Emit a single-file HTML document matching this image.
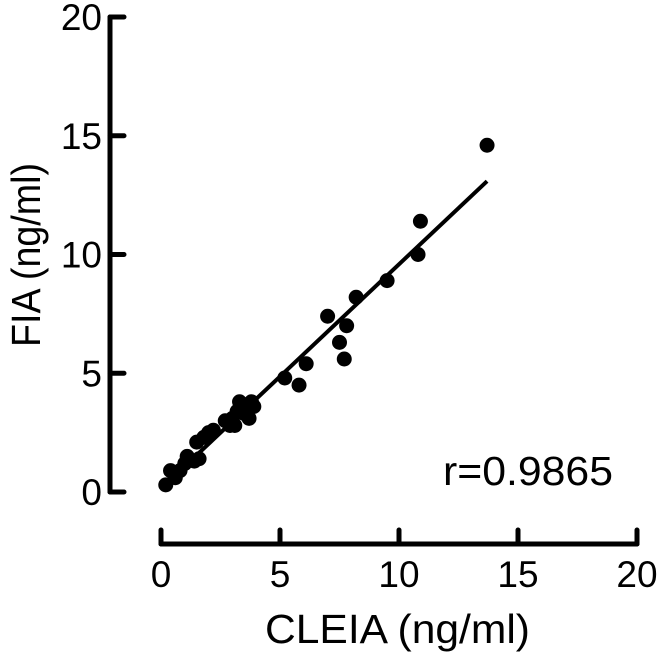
<!DOCTYPE html>
<html><head><meta charset="utf-8"><style>
html,body{margin:0;padding:0;background:#fff;}
svg{display:block;font-family:"Liberation Sans",Arial,sans-serif;}
</style></head><body>
<svg id="chart" width="659" height="656"></svg>
<script>
const xVals=[0.2,0.4,0.6,0.8,1.0,1.1,1.4,1.6,1.5,1.8,2.0,2.2,2.7,2.9,3.0,3.1,3.2,3.3,3.5,3.6,3.7,3.8,3.9,5.2,5.8,6.1,7.0,7.5,7.7,7.8,8.2,9.5,10.8,10.9,13.7];
const yVals=[0.3,0.9,0.6,0.9,1.2,1.5,1.3,1.4,2.1,2.3,2.5,2.6,3.0,2.8,3.1,2.8,3.4,3.8,3.3,3.6,3.1,3.8,3.6,4.8,4.5,5.4,7.4,6.3,5.6,7.0,8.2,8.9,10.0,11.4,14.6];
const xTicks=[0,5,10,15,20];
const yTicks=[0,5,10,15,20];
const rLabel="r=0.9865";
const NS="http://www.w3.org/2000/svg";
const svg=document.getElementById('chart');
function sx(v){return 161+v*23.8;}
function sy(v){return 492-v*23.75;}
function mk(t,a,p){const e=document.createElementNS(NS,t);for(const k in a)e.setAttribute(k,a[k]);(p||svg).appendChild(e);return e;}
const ya=mk('line',{x1:110,y1:sy(20),x2:110,y2:sy(0),stroke:'#000','stroke-width':5,'stroke-linecap':'round'});


const xa=mk('line',{x1:sx(0),y1:544,x2:sx(20),y2:544,stroke:'#000','stroke-width':5,'stroke-linecap':'round'});


yTicks.forEach(v=>{
 const t=mk('line',{x1:110,y1:sy(v),x2:124,y2:sy(v),stroke:'#000','stroke-width':5,'stroke-linecap':'round'});
 
 
 const l=mk('text',{x:102,y:sy(v)+13,'text-anchor':'end','font-size':37});
 l.textContent=v;
 
 
});
xTicks.forEach(v=>{
 const t=mk('line',{x1:sx(v),y1:544,x2:sx(v),y2:530,stroke:'#000','stroke-width':5,'stroke-linecap':'round'});
 
 
 const l=mk('text',{x:sx(v),y:587,'text-anchor':'middle','font-size':37});
 l.textContent=v;
 
 
});
const n=xVals.length;let mx=0,my=0;xVals.forEach((v,i)=>{mx+=v;my+=yVals[i];});mx/=n;my/=n;
let sxy=0,sxx=0;xVals.forEach((v,i)=>{sxy+=(v-mx)*(yVals[i]-my);sxx+=(v-mx)*(v-mx);});
const b=sxy/sxx,a0=my-b*mx;const x0=Math.min(...xVals),x1=Math.max(...xVals);
const rl=mk('line',{x1:sx(x0),y1:sy(a0+b*x0),x2:sx(x1),y2:sy(a0+b*x1),stroke:'#000','stroke-width':4});


xVals.forEach((v,i)=>{
 const c=mk('circle',{cx:sx(v),cy:sy(yVals[i]),r:7.5,fill:'#000'});
 
 
});
const r=mk('text',{x:443,y:485,'font-size':41,textLength:170,lengthAdjust:'spacingAndGlyphs'});r.textContent=rLabel;


const xt=mk('text',{x:265,y:643,'font-size':41,textLength:265,lengthAdjust:'spacingAndGlyphs'});xt.textContent='CLEIA (ng/ml)';


const yt=mk('text',{x:0,y:0,'font-size':41,textLength:184,lengthAdjust:'spacingAndGlyphs',transform:'translate(40 347) rotate(-90)'});yt.textContent='FIA (ng/ml)';


</script>
</body></html>
